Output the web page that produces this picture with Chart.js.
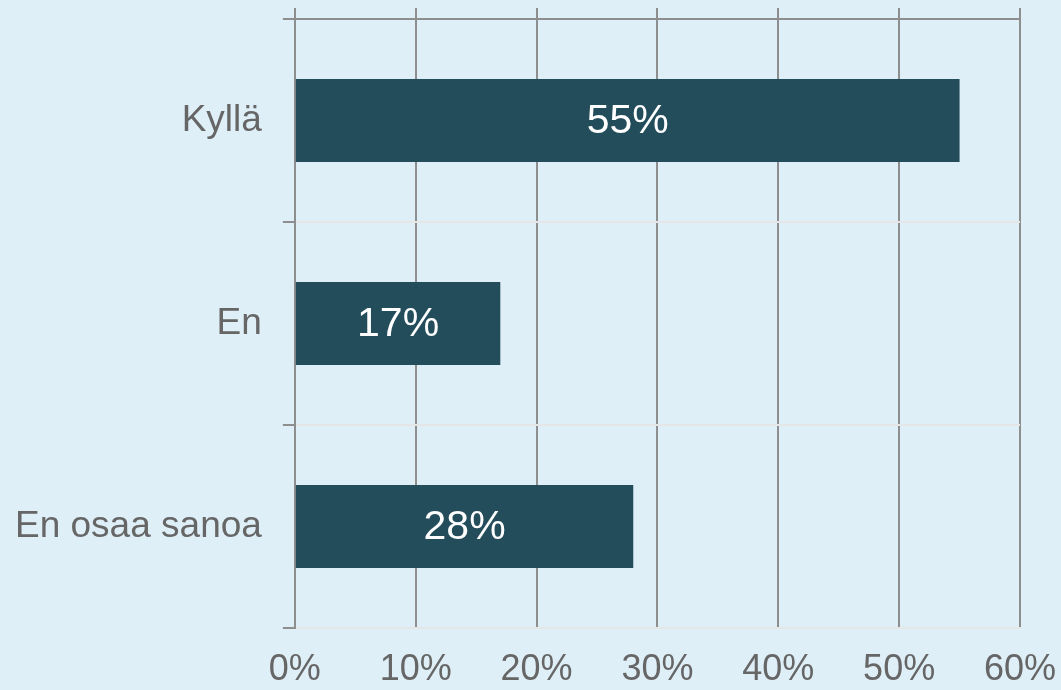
<!DOCTYPE html>
<html>
<head>
<meta charset="utf-8">
<script src="https://cdn.jsdelivr.net/npm/chart.js@4/dist/chart.umd.min.js"></script>
<style>
  html, body { margin: 0; padding: 0; background: #dfeff7; }
  #wrap { width: 1061px; height: 690px; }
</style>
</head>
<body>
<div id="wrap"><canvas id="chart"></canvas></div>
<script>
const categories = ["Kyllä", "En", "En osaa sanoa"];
const shares = [55, 17, 28];
const xTicks = [0, 10, 20, 30, 40, 50, 60];

const GRAY = "#8e8e8e";
const LIGHT = "#e6e6e6";
const TEXT = "#666666";
const FONT = "'Liberation Sans', Arial, sans-serif";

// white percentage text in the middle of each bar
const barLabels = {
    id: "barLabels",
    afterDatasetsDraw(chart) {
        const ctx = chart.ctx;
        const meta = chart.getDatasetMeta(0);
        ctx.save();
        ctx.fillStyle = "#ffffff";
        ctx.font = "41px " + FONT;
        ctx.textAlign = "center";
        ctx.textBaseline = "middle";
        meta.data.forEach(function (bar, i) {
            const p = bar.getProps(["x", "y", "base"], true);
            ctx.fillText(shares[i] + "%", (p.x + p.base) / 2, p.y + 1);
        });
        ctx.restore();
    }
};

// no extra room for half labels at the axis ends, and tick padding counted once
function tightFit(axis) {
    axis.paddingTop = 0;
    axis.paddingBottom = 0;
    axis.paddingLeft = 0;
    axis.paddingRight = 0;
    if (axis.options.ticks.display) {
        if (axis.isHorizontal()) axis.height -= axis.options.ticks.padding;
        else axis.width -= axis.options.ticks.padding;
    }
}

function fixedTicks(axis) {
    axis.ticks = xTicks.map(function (v) { return { value: v }; });
}

new Chart(document.getElementById("chart"), {
    type: "bar",
    data: {
        labels: categories,
        datasets: [{
            data: shares,
            backgroundColor: "#234d5b",
            categoryPercentage: 1,
            barPercentage: 0.41
        }]
    },
    options: {
        indexAxis: "y",
        responsive: true,
        maintainAspectRatio: false,
        animation: false,
        layout: { padding: { left: 15, right: 41, top: 8, bottom: 2 } },
        plugins: { legend: { display: false }, tooltip: { enabled: false } },
        scales: {
            x: {
                type: "linear",
                position: "bottom",
                min: 0,
                max: 60,
                afterBuildTicks: fixedTicks,
                afterFit: tightFit,
                grid: { color: GRAY, lineWidth: 2, drawTicks: false },
                border: { display: true, color: LIGHT, width: 2 },
                ticks: {
                    color: TEXT,
                    padding: 24,
                    font: { family: FONT, size: 36, lineHeight: 1 },
                    callback: function (v) { return v + "%"; }
                }
            },
            x2: {
                type: "linear",
                position: "top",
                min: 0,
                max: 60,
                afterBuildTicks: fixedTicks,
                afterFit: tightFit,
                grid: { drawOnChartArea: false, drawTicks: true, tickLength: 11, color: GRAY, lineWidth: 2 },
                border: { display: true, color: GRAY, width: 2 },
                ticks: { display: false }
            },
            y: {
                afterFit: tightFit,
                grid: {
                    offset: true,
                    color: LIGHT,
                    lineWidth: 2,
                    drawTicks: true,
                    tickLength: 12,
                    tickColor: GRAY,
                    tickWidth: 2
                },
                border: { display: true, color: GRAY, width: 2 },
                ticks: {
                    color: TEXT,
                    padding: 21,
                    font: { family: FONT, size: 37 }
                }
            }
        }
    },
    plugins: [barLabels]
});
</script>
</body>
</html>
